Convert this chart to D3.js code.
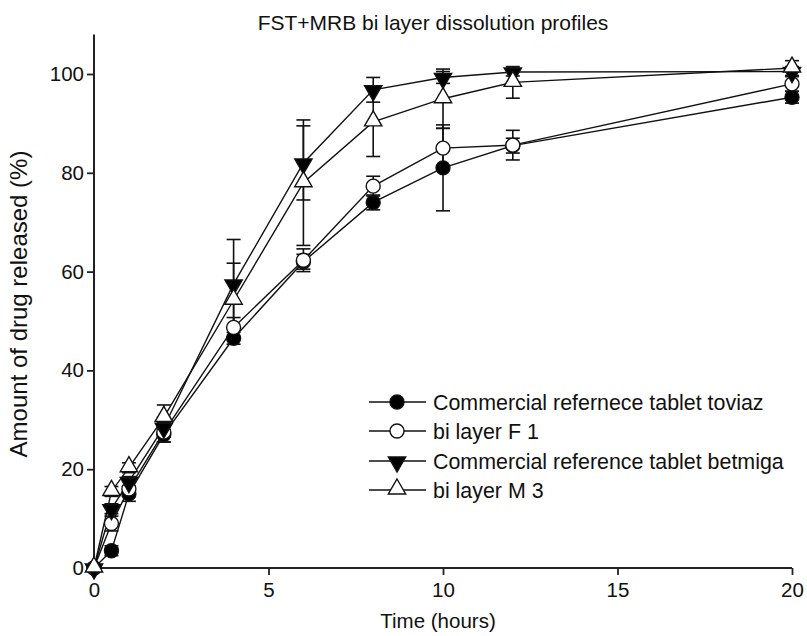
<!DOCTYPE html>
<html><head><meta charset="utf-8">
<script src="https://cdn.jsdelivr.net/npm/d3@7"></script>
<style>body{margin:0;background:#fff;} svg{display:block;font-family:"Liberation Sans",Arial,sans-serif;}</style>
</head><body>
<svg id="chart" width="807" height="636"></svg>
<script>
const times = [0, 0.5, 1, 2, 4, 6, 8, 10, 12, 20];
const toviaz = [0, 3.5, 15, 27, 46.5, 62, 74, 81, 85.5, 95.3];
const toviazSD = [0, 1, 1.5, 1.5, 1.2, 1.5, 1.5, 8.7, 1.5, 1.2];
const f1 = [0, 9, 16, 27.5, 48.7, 62.3, 77.3, 85, 85.6, 98];
const f1SD = [0, 1.5, 1.5, 2, 2, 2.3, 2, 4, 3, 1.5];
const betmiga = [0, 12, 17.5, 28.5, 57.5, 82, 96.8, 99.3, 100.4, 100.5];
const betmigaSD = [0, 1, 1, 2, 9, 7.5, 2.5, 1.2, 0.8, 1];
const m3 = [0, 15.5, 20.3, 30.5, 54.2, 78, 90.3, 95, 98.3, 101.2];
const m3SD = [0, 1, 1, 2.5, 7.5, 12.7, 7, 6, 3.2, 1.5];
const seriesNames = ["Commercial refernece tablet toviaz", "bi layer F 1", "Commercial reference tablet betmiga", "bi layer M 3"];
const xTicks = [0, 5, 10, 15, 20];
const yTicks = [0, 20, 40, 60, 80, 100];
const title = "FST+MRB bi layer dissolution profiles";
const xTitle = "Time (hours)";
const yTitle = "Amount of drug released (%)";

const series = [
  {name: seriesNames[0], vals: toviaz, sd: toviazSD, shape: "circle", fill: "#000"},
  {name: seriesNames[1], vals: f1, sd: f1SD, shape: "circle", fill: "#fff"},
  {name: seriesNames[2], vals: betmiga, sd: betmigaSD, shape: "down", fill: "#000"},
  {name: seriesNames[3], vals: m3, sd: m3SD, shape: "up", fill: "#fff"}
];

const svg = d3.select("#chart");
const x = d3.scaleLinear().domain([0, 20]).range([94, 792]);
const y = d3.scaleLinear().domain([0, 100]).range([568, 74]);
const axisCol = "#222";

// axes
const gx = svg.append("g").attr("transform", `translate(0,${y(0)})`)
  .call(d3.axisBottom(x).tickValues(xTicks).tickSize(7).tickPadding(7).tickFormat(d3.format("d")));
const gy = svg.append("g").attr("transform", `translate(${x(0)},0)`)
  .call(d3.axisLeft(y).tickValues(yTicks).tickSize(7).tickPadding(3).tickFormat(d3.format("d")));
[gx, gy].forEach(g => {
  g.select(".domain").remove();
  g.selectAll(".tick line").attr("stroke", axisCol).attr("stroke-width", 1.8);
  g.selectAll(".tick text").attr("fill", "#111").style("font-size", "20.5px");
});
svg.append("line").attr("x1", x(0)).attr("x2", x(20)).attr("y1", y(0)).attr("y2", y(0)).attr("stroke", axisCol).attr("stroke-width", 2);
svg.append("line").attr("x1", x(0)).attr("x2", x(0)).attr("y1", y(0)).attr("y2", y(108)).attr("stroke", axisCol).attr("stroke-width", 2);

// titles
svg.append("text").attr("x", 433).attr("y", 30).attr("text-anchor", "middle")
  .style("font-size", "21px").attr("fill", "#111").text(title);
svg.append("text").attr("x", x(10) - 5).attr("y", 628).attr("text-anchor", "middle")
  .style("font-size", "20.5px").attr("fill", "#111").text(xTitle);
svg.append("text").attr("transform", `translate(27,304) rotate(-90)`).attr("text-anchor", "middle")
  .style("font-size", "24px").attr("fill", "#111").text(yTitle);

const line = d3.line().x(d => x(d[0])).y(d => y(d[1]));
const plot = svg.append("g");

// lines
series.forEach(s => {
  plot.append("path").datum(times.map((t, i) => [t, s.vals[i]]))
    .attr("d", line).attr("fill", "none").attr("stroke", "#111").attr("stroke-width", 1.4);
});

// error bars
const cap = 7;
series.forEach(s => {
  const g = plot.append("g");
  times.forEach((t, i) => {
    if (!s.sd[i]) return;
    const cx = x(t), y1 = y(s.vals[i] + s.sd[i]), y2 = y(s.vals[i] - s.sd[i]);
    g.append("line").attr("x1", cx).attr("x2", cx).attr("y1", y1).attr("y2", y2).attr("stroke", "#111").attr("stroke-width", 1.6);
    g.append("line").attr("x1", cx - cap).attr("x2", cx + cap).attr("y1", y1).attr("y2", y1).attr("stroke", "#111").attr("stroke-width", 1.6);
    g.append("line").attr("x1", cx - cap).attr("x2", cx + cap).attr("y1", y2).attr("y2", y2).attr("stroke", "#111").attr("stroke-width", 1.6);
  });
});

function drawMarker(g, shape, cx, cy, fill) {
  if (shape === "circle") {
    g.append("circle").attr("cx", cx).attr("cy", cy).attr("r", 7).attr("fill", fill).attr("stroke", "#111").attr("stroke-width", 1.4);
  } else {
    const sym = d3.symbol().type(d3.symbolTriangle).size(130);
    g.append("path").attr("d", sym())
      .attr("transform", `translate(${cx},${cy + (shape === "down" ? 1 : -1)})` + (shape === "down" ? " rotate(180)" : ""))
      .attr("fill", fill).attr("stroke", "#111").attr("stroke-width", 1.4);
  }
}

// markers
series.forEach(s => {
  const g = plot.append("g");
  times.forEach((t, i) => drawMarker(g, s.shape, x(t), y(s.vals[i]), s.fill));
});

// legend
const lg = svg.append("g");
const legY = [402, 431, 461, 490];
series.forEach((s, i) => {
  lg.append("line").attr("x1", 369).attr("x2", 426).attr("y1", legY[i]).attr("y2", legY[i]).attr("stroke", "#111").attr("stroke-width", 1.6);
  drawMarker(lg, s.shape, 397, legY[i], s.fill);
  lg.append("text").attr("x", 433).attr("y", legY[i] + 7.5).style("font-size", "21.4px").attr("fill", "#111").text(s.name);
});
</script>
</body></html>
